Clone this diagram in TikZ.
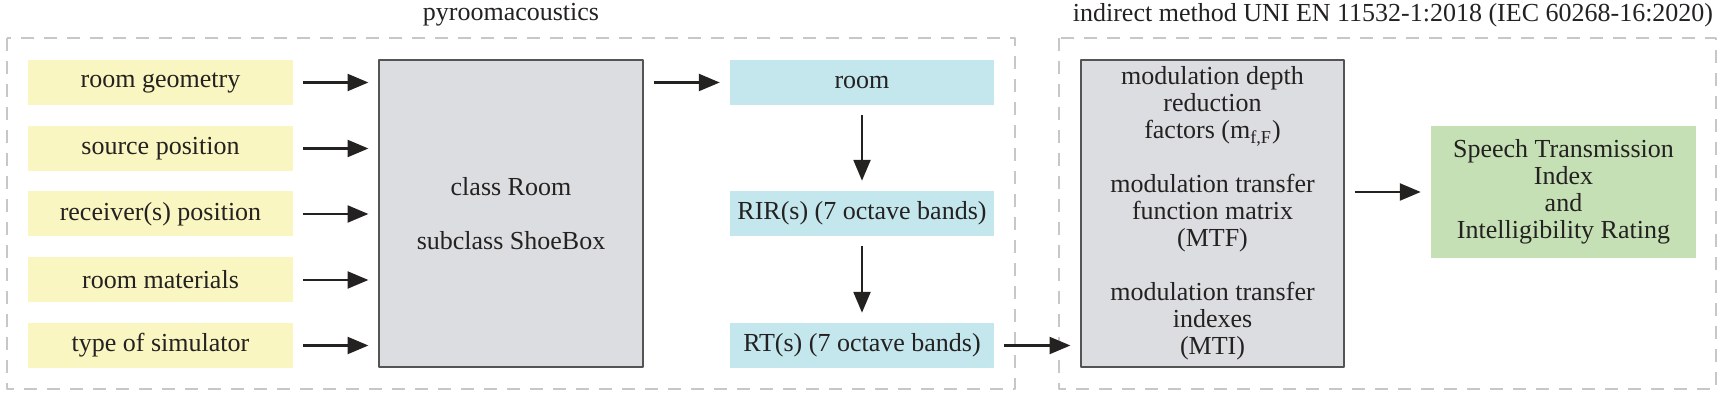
\documentclass[tikz,border=0pt]{standalone}
\usepackage{fontspec}
\setmainfont{Liberation Serif}
\usepackage{tikz}
\usetikzlibrary{calc}
\usetikzlibrary{arrows}
\definecolor{fbf7c2}{rgb}{0.976,0.965,0.757}
\definecolor{c4e7ed}{rgb}{0.769,0.906,0.929}
\definecolor{c5e0b4}{rgb}{0.773,0.878,0.706}
\definecolor{dcdde0}{rgb}{0.863,0.867,0.878}
\definecolor{qqqqqq}{rgb}{0.14,0.13,0.13}
\definecolor{cccccc}{rgb}{0.78,0.78,0.78}
\definecolor{gggggg}{rgb}{0.33,0.33,0.33}
\tikzstyle{every node}=[font=\fontsize{13}{13.5}\selectfont,text=qqqqqq]
\tikzset{
  inbox/.style={fill=fbf7c2,minimum width=132.5pt,minimum height=22.5pt,inner sep=0pt},
  outbox/.style={fill=c4e7ed,minimum width=132pt,minimum height=22.5pt,inner sep=0pt},
  procbox/.style={fill=dcdde0,draw=gggggg,line width=0.7pt,minimum width=132pt,minimum height=153.5pt,inner sep=0pt,align=center},
  resbox/.style={fill=c5e0b4,minimum width=132.5pt,minimum height=66pt,inner sep=0pt,align=center},
  group/.style={draw=cccccc,line width=0.6pt,dash pattern=on 6.5pt off 5pt},
  flow/.style={->,line width=1.4pt,color=qqqqqq,shorten <=5pt,shorten >=5pt}
}

\begin{document}
\begin{tikzpicture}[line cap=butt,line join=round,>=triangle 45,x=0.5pt,y=-0.5pt]
\useasboundingbox (0,0) rectangle (1725,400);
% dashed groups
\draw [group] (7,38) rectangle (1015,389);
\draw [group] (1059,38) rectangle (1716,389);
\node (t1) at (511,15) {pyroomacoustics};
\node (t2) at (1393,15) {indirect method UNI EN 11532-1:2018 (IEC 60268-16:2020)};
% inputs
\node [inbox] (geo) at (160.5,82.5) {room geometry};
\node [inbox] (src) at (160.5,148.5) {source position};
\node [inbox] (rcv) at (160.5,214) {receiver(s) position};
\node [inbox] (mat) at (160.5,280) {room materials};
\node [inbox] (sim) at (160.5,345.5) {type of simulator};
\node [procbox] (cls) at (511,213.5) {class Room\\[13.5pt]subclass ShoeBox};
% outputs
\node [outbox] (room) at (862,82.5) {room};
\node [outbox] (rir) at (862,213.5) {RIR(s) (7 octave bands)};
\node [outbox] (rt) at (862,345.5) {RT(s) (7 octave bands)};
\node [procbox,minimum width=131.5pt] (mtf) at (1212.5,213.5) {modulation depth\\reduction\\factors (m\textsubscript{f,F})\\[13.5pt]modulation transfer\\function matrix\\(MTF)\\[13.5pt]modulation transfer\\indexes\\(MTI)};
\node [resbox] (sti) at (1563.5,192) {Speech Transmission\\Index\\and\\Intelligibility Rating};
% arrows
\foreach \n in {geo,src,rcv,mat,sim}
  \draw [flow] (\n.east) -- (\n.east -| cls.west);
\draw [flow] (cls.east |- room) -- (room.west);
\draw [flow] (room) -- (rir);
\draw [flow] (rir) -- (rt);
\draw [flow] (rt.east) -- (rt.east -| mtf.west);
\draw [flow] (mtf.east |- sti) -- (sti.west);
\end{tikzpicture}
\end{document}
